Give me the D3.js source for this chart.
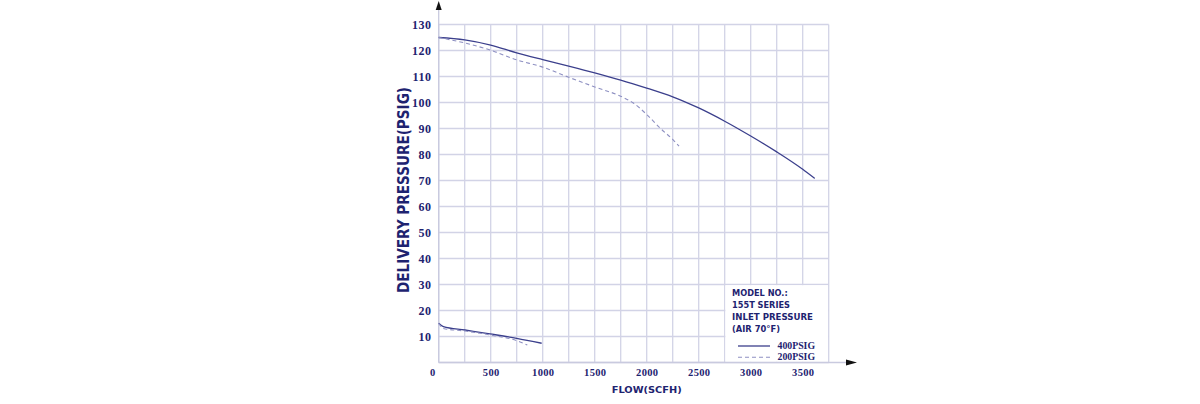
<!DOCTYPE html>
<html><head><meta charset="utf-8">
<script src="https://cdn.jsdelivr.net/npm/d3@7"></script>
<style>body{margin:0;background:#fff}svg{display:block}</style>
</head><body>
<svg id="c" width="1200" height="404"></svg>
<script>
// ---- data ----
const xTicks = [0, 500, 1000, 1500, 2000, 2500, 3000, 3500];
const yTicks = [10, 20, 30, 40, 50, 60, 70, 80, 90, 100, 110, 120, 130];
const gridX = d3.range(0, 3751, 250);
const gridY = d3.range(0, 131, 10);
// 400 PSIG inlet, upper curve (flow, pressure)
const s400Flow = [0, 250, 500, 750, 1000, 1250, 1500, 1750, 2000, 2250, 2500, 2750, 3000, 3250, 3500, 3615];
const s400Pres = [125.0, 124.1, 122.1, 119.1, 116.5, 114.0, 111.4, 108.6, 105.5, 102.2, 97.9, 92.8, 87.1, 81.0, 74.3, 70.8];
// 200 PSIG inlet, upper curve
const s200Flow = [0, 250, 500, 750, 1000, 1250, 1500, 1750, 1868, 2000, 2125, 2250, 2311];
const s200Pres = [125.0, 122.9, 120.1, 116.4, 113.6, 109.7, 106.0, 102.4, 99.9, 95.4, 90.3, 85.8, 83.2];
// 400 PSIG, lower curve
const l400Flow = [0, 45, 253, 493, 750, 990];
const l400Pres = [15.1, 13.8, 12.5, 11.0, 9.3, 7.4];
// 200 PSIG, lower curve
const l200Flow = [0, 45, 253, 493, 750, 852];
const l200Pres = [15.1, 13.1, 12.1, 10.6, 8.4, 6.7];
const legendLines = ["MODEL NO.:", "155T SERIES", "INLET PRESSURE", "(AIR 70\u00B0F)"];
const seriesNames = ["400PSIG", "200PSIG"];

// ---- drawing ----
const navy = "#1e2370";
const svg = d3.select("#c");
const x = d3.scaleLinear().domain([0, 3750]).range([438.7, 828.7]);
const y = d3.scaleLinear().domain([0, 130]).range([362.5, 24.5]);

const g = svg.append("g");
// grid
g.selectAll("line.gx").data(gridX).join("line")
  .attr("x1", d => x(d)).attr("x2", d => x(d))
  .attr("y1", y(0)).attr("y2", y(130))
  .attr("stroke", "#d2d3e6").attr("stroke-width", 1.3);
g.selectAll("line.gy").data(gridY).join("line")
  .attr("x1", x(0)).attr("x2", x(3750))
  .attr("y1", d => y(d)).attr("y2", d => y(d))
  .attr("stroke", "#d2d3e6").attr("stroke-width", 1.3);

// legend background over grid
g.append("rect").attr("x", x(2750) + 0.7).attr("y", y(30) + 0.7)
  .attr("width", x(3750) - x(2750) - 1.4).attr("height", y(0) - y(30) - 1.4)
  .attr("fill", "#fff");

// axes lines & arrows
g.append("line").attr("x1", x(0)).attr("x2", x(0)).attr("y1", y(0)).attr("y2", 8)
  .attr("stroke", "#c9cadf").attr("stroke-width", 1.3);
g.append("line").attr("x1", x(0)).attr("x2", 848).attr("y1", y(0)).attr("y2", y(0))
  .attr("stroke", "#c9cadf").attr("stroke-width", 1.3);
g.append("path").attr("d", `M${x(0)},1 L${x(0)-3},10 L${x(0)+3},10 Z`).attr("fill", "#111");
g.append("path").attr("d", `M857,${y(0)} L846,${y(0)-3} L846,${y(0)+3} Z`).attr("fill", "#111");

// tick labels via axes
const ya = svg.append("g").attr("transform", `translate(${x(0)},0)`)
  .call(d3.axisLeft(y).tickValues(yTicks).tickFormat(d3.format("d")).tickSize(0).tickPadding(7));
ya.select(".domain").remove();
ya.selectAll("text").attr("fill", navy).attr("font-family", "Liberation Serif")
  .attr("font-weight", "bold").attr("font-size", 12).attr("letter-spacing", 0.6);

const xa = svg.append("g").attr("transform", `translate(0,${y(0)})`)
  .call(d3.axisBottom(x).tickValues(xTicks).tickFormat(d3.format("d")).tickSize(0).tickPadding(6));
xa.select(".domain").remove();
xa.selectAll("text").attr("fill", navy).attr("font-family", "Liberation Serif")
  .attr("font-weight", "bold").attr("font-size", 10.5).attr("letter-spacing", 0.3);
xa.selectAll(".tick").filter(d => d === 0).select("text").attr("dx", -6.5);

// axis titles
svg.append("text").attr("transform", "translate(409,190) rotate(-90)")
  .attr("text-anchor", "middle").attr("fill", navy)
  .attr("font-family", "DejaVu Sans").attr("font-weight", "bold").attr("font-size", 16)
  .attr("textLength", 206).attr("lengthAdjust", "spacingAndGlyphs")
  .text("DELIVERY PRESSURE(PSIG)");
svg.append("text").attr("x", 646.7).attr("y", 392.5)
  .attr("text-anchor", "middle").attr("fill", navy)
  .attr("font-family", "DejaVu Sans").attr("font-weight", "bold").attr("font-size", 8.5)
  .attr("textLength", 70).attr("lengthAdjust", "spacingAndGlyphs")
  .text("FLOW(SCFH)");

// curves
const line = d3.line().x(d => x(d[0])).y(d => y(d[1])).curve(d3.curveMonotoneX);
const zip = (a, b) => a.map((v, i) => [v, b[i]]);
const solid = {stroke: "#3b3f8c", w: 1.3, dash: null};
const dashed = {stroke: "#8e90c2", w: 1.1, dash: "4,3"};
[[zip(s400Flow, s400Pres), solid], [zip(s200Flow, s200Pres), dashed],
 [zip(l400Flow, l400Pres), solid], [zip(l200Flow, l200Pres), dashed]].forEach(([d, st]) => {
  svg.append("path").attr("d", line(d)).attr("fill", "none")
    .attr("stroke", st.stroke).attr("stroke-width", st.w)
    .attr("stroke-dasharray", st.dash);
});

// legend
const lg = svg.append("g");
const lgY = [296, 308, 320, 332];
const lgW = [55.7, 58, 81, 48];
legendLines.forEach((t, i) => {
  lg.append("text").attr("x", 732).attr("y", lgY[i]).attr("fill", navy)
    .attr("font-family", "DejaVu Sans").attr("font-weight", "bold").attr("font-size", 9)
    .attr("textLength", lgW[i]).attr("lengthAdjust", "spacingAndGlyphs").text(t);
});
[solid, dashed].forEach((st, i) => {
  const yy = 346 + i * 11.3;
  lg.append("line").attr("x1", 738).attr("x2", 770).attr("y1", yy).attr("y2", yy)
    .attr("stroke", st.stroke).attr("stroke-width", st.w).attr("stroke-dasharray", st.dash);
  lg.append("text").attr("x", 777.5).attr("y", yy + 3).attr("fill", navy)
    .attr("font-family", "Liberation Serif").attr("font-weight", "bold").attr("font-size", 10.5)
    .attr("textLength", 37.5).attr("lengthAdjust", "spacingAndGlyphs").text(seriesNames[i]);
});
</script>
</body></html>
